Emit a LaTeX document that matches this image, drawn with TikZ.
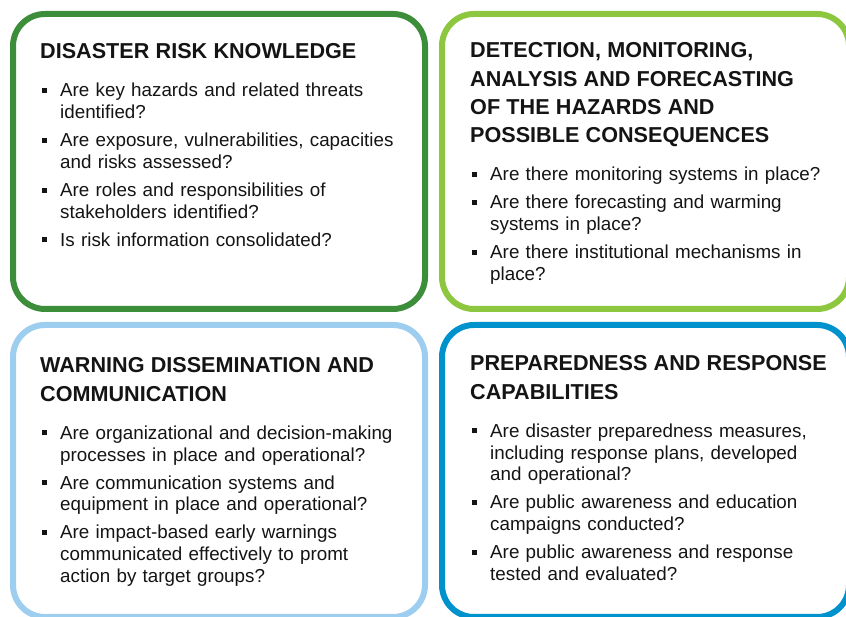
\documentclass[tikz,border=0pt]{standalone}
\usepackage{fontspec}
\setmainfont{Liberation Sans}
\usepackage{enumitem}
\usetikzlibrary{positioning}

\definecolor{drkgreen}{HTML}{3D8E3A}
\definecolor{ltgreen}{HTML}{8DC63F}
\definecolor{ltblue}{HTML}{9DCEF0}
\definecolor{seablue}{HTML}{0092CC}
\definecolor{ink}{HTML}{141414}

% square bullets, hanging text
\setlist[itemize]{label=\rule[4pt]{5pt}{5pt}, leftmargin=20pt, labelwidth=5pt,
  labelsep=13pt, align=left, topsep=0pt, partopsep=0pt, parsep=0pt, itemsep=6.2pt}

\newcommand{\panelhead}[1]{{\fontsize{21.6}{28.3}\selectfont\bfseries #1\par}\vspace{16.2pt}}

\begin{document}
\begin{tikzpicture}[x=1pt, y=1pt,
    panel/.style={draw=#1, line width=6pt, rounded corners=32pt, outer sep=0pt,
      inner sep=0pt, minimum width=412pt, minimum height=295pt},
    content/.style={anchor=base west, text width=375pt, align=left, inner sep=0pt,
      text=ink, font=\fontsize{18.8}{21.8}\selectfont}]
  \useasboundingbox (0,0) rectangle (846,617);
  \clip (0,0) rectangle (846,617);

  % the four panels
  \node[panel=drkgreen] (knowledge) at (219,455.5) {};
  \node[panel=ltgreen, minimum width=407pt, right=17pt of knowledge] (detection) {};
  \node[panel=ltblue, minimum height=292pt, below=16pt of knowledge] (warning) {};
  \node[panel=seablue, minimum width=407pt, minimum height=292pt, right=17pt of warning] (preparedness) {};

  \node[content] (knowledge text) at ([shift={(27,-45)}]knowledge.north west) {%
    \panelhead{DISASTER RISK KNOWLEDGE}
    \begin{itemize}
      \item Are key hazards and related threats\\identified?
      \item Are exposure, vulnerabilities, capacities\\and risks assessed?
      \item Are roles and responsibilities of\\stakeholders identified?
      \item Is risk information consolidated?
    \end{itemize}};

  \node[content] (detection text) at ([shift={(28,-44)}]detection.north west) {%
    \panelhead{DETECTION, MONITORING,\\ANALYSIS AND FORECASTING\\OF THE HAZARDS AND\\POSSIBLE CONSEQUENCES}
    \begin{itemize}
      \item Are there monitoring systems in place?
      \item Are there forecasting and warming\\systems in place?
      \item Are there institutional mechanisms in\\place?
    \end{itemize}};

  \node[content] (warning text) at ([shift={(27,-48)}]warning.north west) {%
    \panelhead{WARNING DISSEMINATION AND\\COMMUNICATION}
    \begin{itemize}
      \item Are organizational and decision-making\\processes in place and operational?
      \item Are communication systems and\\equipment in place and operational?
      \item Are impact-based early warnings\\communicated effectively to promt\\action by target groups?
    \end{itemize}};

  \node[content] (preparedness text) at ([shift={(28,-46)}]preparedness.north west) {%
    \panelhead{PREPAREDNESS AND RESPONSE\\CAPABILITIES}
    \begin{itemize}
      \item Are disaster preparedness measures,\\including response plans, developed\\and operational?
      \item Are public awareness and education\\campaigns conducted?
      \item Are public awareness and response\\tested and evaluated?
    \end{itemize}};
\end{tikzpicture}
\end{document}
